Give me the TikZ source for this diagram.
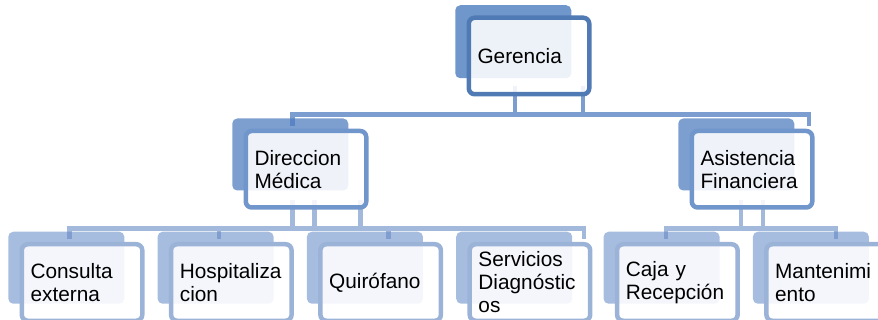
\documentclass[tikz,border=0pt]{standalone}
\usepackage{fontspec}
\setmainfont{Liberation Sans}
\usetikzlibrary{backgrounds}
\definecolor{topline}{HTML}{4F7AB3}
\definecolor{midline}{HTML}{7096CB}
\definecolor{lowline}{HTML}{9CB3D8}
\definecolor{topfill}{HTML}{6F97CB}
\definecolor{midfill}{HTML}{7C9FD0}
\definecolor{lowfill}{HTML}{A6BDE0}
\definecolor{linkdark}{HTML}{4F7CC0}
\definecolor{linklight}{HTML}{658AC4}

\begin{document}
\begin{tikzpicture}[x=1pt,y=1pt,level distance=113.25pt,
  level 1/.style={sibling distance=446pt},
  level 2/.style={sibling distance=149.3pt},
  edge from parent/.style={draw=none},
  box/.style={rectangle,rounded corners=6pt,line width=4.5pt,fill=white,fill opacity=0.88,text opacity=1,
    minimum width=120.5pt,minimum height=76.5pt,text width=103pt,inner xsep=8.75pt,inner ysep=2pt,
    align=left,font=\fontsize{20.8pt}{23pt}\selectfont},
  topbox/.style={box,draw=topline},
  midbox/.style={box,draw=midline},
  lowbox/.style={box,draw=lowline},
  linkA/.style={draw=linkdark,draw opacity=0.75,line width=4.5pt},
  linkB/.style={draw=linklight,draw opacity=0.6,line width=4.5pt}]
  \useasboundingbox (0,0) rectangle (878,-320);
  \clip (0,0) rectangle (878,-320);
  \node[topbox] (g) at (529,-56) {Gerencia}
  child {node[midbox] (d) {Direccion\\Médica}
    child {node[lowbox] (c1) {Consulta\\externa}}
    child {node[lowbox] (c2) {Hospitaliza\\cion}}
    child {node[lowbox] (c3) {Quirófano}}
    child {node[lowbox] (c4) {Servicios\\Diagnóstic\\os}}
  }
  child {node[midbox] (a) {Asistencia\\Financiera}
    child {node[lowbox] (e1) {Caja y\\Recepción}}
    child {node[lowbox] (e2) {Mantenimi\\ento}}
  };
  \coordinate (gbar) at ([yshift=-18pt]g.south);
  \coordinate (dbar) at ([yshift=-19pt]d.south);
  \coordinate (abar) at ([yshift=-19pt]a.south);
  \begin{scope}[on background layer]
    \fill[topfill,rounded corners=5pt] ([shift={(-11.25pt,10.25pt)}]g.north west) rectangle +(116,-73);
    \foreach \n in {d,a}
      \fill[midfill,rounded corners=5pt] ([shift={(-11.25pt,10.25pt)}]\n.north west) rectangle +(116,-72);
    \foreach \n in {c1,c2,c3,c4,e1,e2}
      \fill[lowfill,rounded corners=5pt] ([shift={(-11.25pt,10.25pt)}]\n.north west) rectangle +(116,-72);
    \draw[linkA] ([xshift=-14pt,yshift=10pt]g.south) |- (gbar)
      ([xshift=54pt,yshift=10pt]g.south) |- (gbar)
      ([xshift=-13.5pt,yshift=3pt]d.north) |- (gbar) -| ([xshift=57pt,yshift=3pt]a.north);
    \draw[linkB] ([xshift=-13.5pt,yshift=10pt]d.south) |- (dbar)
      ([xshift=8.5pt,yshift=10pt]d.south) |- (dbar)
      ([xshift=54.5pt,yshift=10pt]d.south) |- (dbar)
      ([xshift=-12.5pt,yshift=3pt]c1.north) |- (dbar) -| ([xshift=54pt,yshift=3pt]c4.north)
      ([xshift=-12.5pt,yshift=3pt]c2.north) |- (dbar)
      ([xshift=8pt,yshift=3pt]c3.north) |- (dbar);
    \draw[linkB] ([xshift=-11pt,yshift=10pt]a.south) |- (abar)
      ([xshift=11pt,yshift=10pt]a.south) |- (abar)
      ([xshift=-11.5pt,yshift=3pt]e1.north) |- (abar) -| ([xshift=9.5pt,yshift=3pt]e2.north);
  \end{scope}
\end{tikzpicture}
\end{document}
